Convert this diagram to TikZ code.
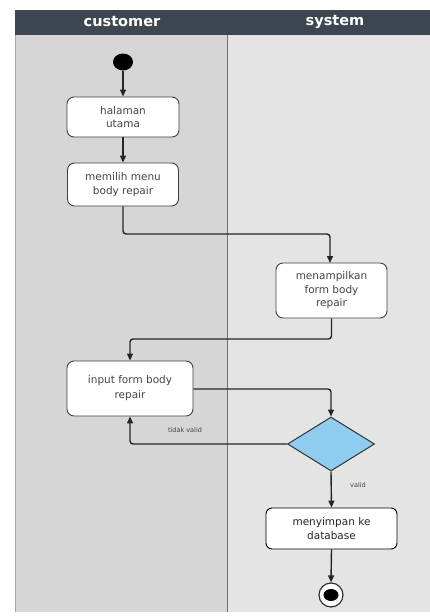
\documentclass[tikz,border=0pt]{standalone}
\usepackage{fontspec}
\setmainfont{DejaVu Sans}
\usetikzlibrary{arrows.meta,shapes.geometric}
\definecolor{hdr}{HTML}{3E4651}
\definecolor{laneL}{HTML}{D6D6D6}
\definecolor{laneR}{HTML}{E4E4E4}
\definecolor{txt}{HTML}{444444}
\definecolor{dia}{HTML}{8ECDF0}
\tikzset{
  act/.style={draw=black!75, line width=0.9pt, fill=white, rounded corners=7pt, align=center,
    text=txt, font=\fontsize{10.5}{13.5}\selectfont, inner sep=2pt},
  flow/.style={draw=black!85, line width=1.4pt, -{Triangle[length=7pt,width=6pt]}},
  lbl/.style={text=txt, font=\fontsize{6.5}{8}\selectfont},
  hdrtxt/.style={text=white, font=\bfseries\fontsize{14.5}{16}\selectfont}
}
\begin{document}
\begin{tikzpicture}[x=1pt,y=-1pt]
\useasboundingbox (0,0) rectangle (430,616);
% lanes
\fill[laneL] (15,35) rectangle (227,612);
\fill[laneR] (227,35) rectangle (430,612);
\draw[black!55, line width=0.8pt] (227,35) -- (227,612);
\draw[black!35, line width=0.6pt] (15,35) -- (15,612);
\fill[hdr] (15,10) rectangle (430,35);
\node[hdrtxt] (hc) at (122,22) {customer};
\node[hdrtxt] (hs) at (335,22) {system};
% nodes
\node[ellipse, fill=black, minimum width=20pt, minimum height=17pt, inner sep=0pt] (start) at (123,62) {};
\node[act, minimum width=112pt, minimum height=40pt] (n1) at (123,117) {halaman\\utama};
\node[act, minimum width=111pt, minimum height=43pt] (n2) at (123,184.5) {memilih menu\\body repair};
\node[act, minimum width=111pt, minimum height=55pt] (n3) at (331.5,290.5) {menampilkan\\form body\\repair};
\node[act, minimum width=126pt, minimum height=55pt] (n4) at (130,388.5) {};
\node[act, draw=none, fill=none, font=\fontsize{10.5}{15}\selectfont] (n4t) at (130,388) {input form body\\repair};
\node[diamond, draw=black!80, line width=1pt, fill=dia, minimum width=87pt, minimum height=54pt, inner sep=0pt, aspect=1.6] (d) at (331,444) {};
\node[act, draw=black, text=black!85, minimum width=131pt, minimum height=41pt, rounded corners=6pt] (n5) at (331.5,528.5) {menyimpan ke\\database};
\node[circle, draw=black!80, line width=1.2pt, fill=white, minimum size=24pt, inner sep=0pt] (end) at (331,595) {};
\node[ellipse, fill=black, minimum width=15pt, minimum height=12pt, inner sep=0pt] (endin) at (331,595) {};
% connectors
\draw[flow] (start) -- (n1);
\draw[flow] (n1) -- (n2);
\draw[flow, rounded corners=3pt] (n2.south) -- (123,234) -- (330,234) -- (330,263);
\draw[flow, rounded corners=3pt] (n3.south) -- (331.5,339) -- (130,339) -- (n4.north);
\draw[flow, rounded corners=3pt] (n4.east |- 0,389) -- (331,389) -- (d.north);
\draw[flow, rounded corners=3pt] (d.west) -- (130,444) -- (n4.south);
\node[lbl] (tv) at (185,430) {tidak valid};
\draw[flow] (d.south) -- (n5.north);
\node[lbl] (vl) at (358,485) {valid};
\draw[flow] (n5.south) -- (end.north);
\end{tikzpicture}
\end{document}
